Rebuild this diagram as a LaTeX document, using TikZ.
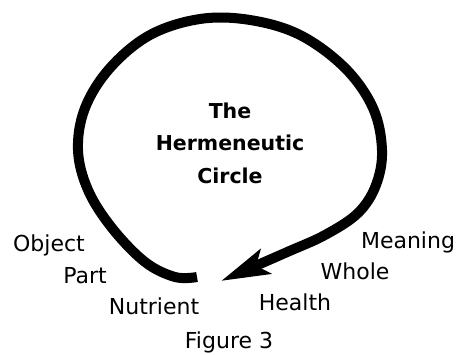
\documentclass[tikz,border=0pt]{standalone}
\usepackage{fontspec}
\setmainfont{DejaVu Sans}
\usetikzlibrary{arrows.meta}
\begin{document}
\begin{tikzpicture}[x=1pt,y=-1pt,
  lbl/.style={font=\fontsize{22}{24}\selectfont, inner sep=0pt, anchor=base},
  ttl/.style={font=\fontsize{20.5}{22}\bfseries\selectfont, inner sep=0pt, anchor=base},
  loop/.style={line width=10pt, line join=round, line cap=butt,
    -{Stealth[length=48pt, width=26pt, inset=10pt]}}]
\useasboundingbox (0,0) rectangle (462,355);
\coordinate (start) at (197,277);
\coordinate (tip) at (221,281);
\draw[loop] plot[smooth, tension=0.6] coordinates {
  (start) (175,277) (145,262) (112,228) (88,190) (78,150) (85,108) (110,68)
  (150,35) (200,19) (250,20) (300,35) (345,68) (373,108) (382,150)
  (376,185) (358,213) (325,235) (285,253) (tip)};
\node[ttl] (the) at (230,119) {The};
\node[ttl] (herm) at (230,151) {Hermeneutic};
\node[ttl] (circ) at (230,183) {Circle};
\node[lbl] (obj) at (49,251) {Object};
\node[lbl] (part) at (85,283) {Part};
\node[lbl] (nut) at (154,314) {Nutrient};
\node[lbl] (mean) at (408,248) {Meaning};
\node[lbl] (whole) at (355,279) {Whole};
\node[lbl] (health) at (295,310) {Health};
\node[lbl] (fig) at (229,348) {Figure 3};
\end{tikzpicture}
\end{document}
